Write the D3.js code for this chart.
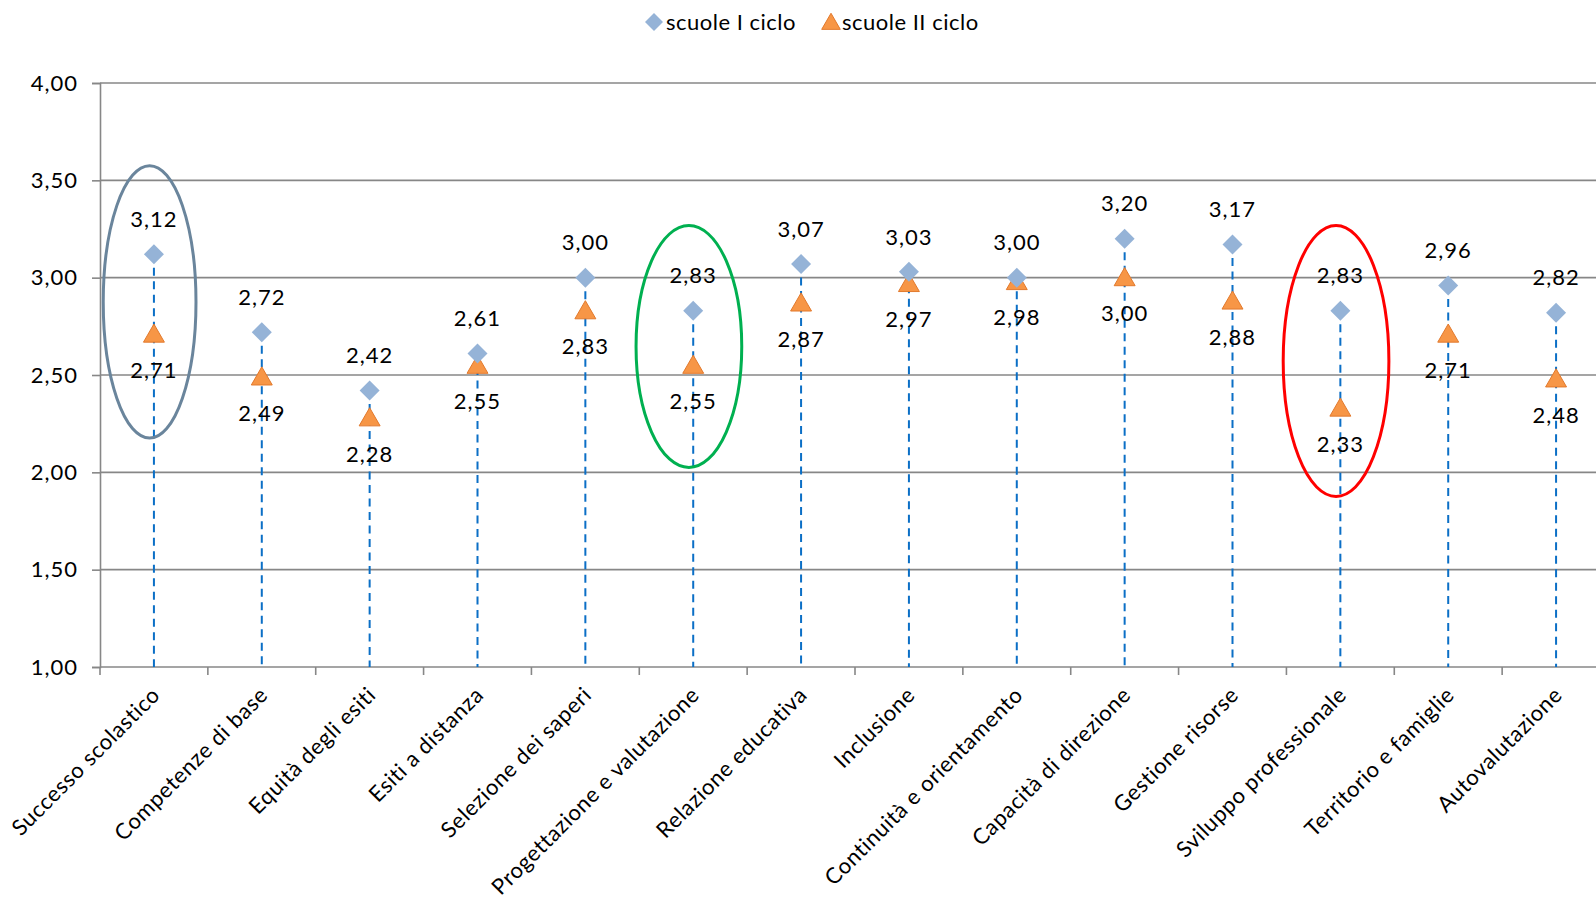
<!DOCTYPE html>
<html>
<head>
<meta charset="utf-8">
<script src="https://cdn.jsdelivr.net/npm/d3@7"></script>
<style>
  html, body { margin: 0; padding: 0; background: #fff; }
  svg { display: block; font-family: Lato, "Noto Sans", sans-serif; }
</style>
</head>
<body>
<svg id="chart" width="1596" height="908"></svg>
<script>
// Aree di valutazione
const categories = [
  "Successo scolastico", "Competenze di base", "Equità degli esiti", "Esiti a distanza",
  "Selezione dei saperi", "Progettazione e valutazione", "Relazione educativa", "Inclusione",
  "Continuità e orientamento", "Capacità di direzione", "Gestione risorse",
  "Sviluppo professionale", "Territorio e famiglie", "Autovalutazione"
];
// Punteggi medi per ciclo
const primoCiclo   = [3.12, 2.72, 2.42, 2.61, 3.00, 2.83, 3.07, 3.03, 3.00, 3.20, 3.17, 2.83, 2.96, 2.82];
const secondoCiclo = [2.71, 2.49, 2.28, 2.55, 2.83, 2.55, 2.87, 2.97, 2.98, 3.00, 2.88, 2.33, 2.71, 2.48];
const seriesNames  = ["scuole I ciclo", "scuole II ciclo"];
const yTicks = [1.00, 1.50, 2.00, 2.50, 3.00, 3.50, 4.00];
// Aree evidenziate: categoria, estremi verticali (valori), colore
const highlightCats   = ["Successo scolastico", "Progettazione e valutazione", "Sviluppo professionale"];
const highlightTop    = [3.575, 3.268, 3.268];
const highlightBottom = [2.176, 2.025, 1.876];
const highlightColors = ["#6a859c", "#00b050", "#ff0000"];

const svg = d3.select("#chart");
const m = { left: 100, top: 83, right: 1610, bottom: 667 };

const x = d3.scaleBand().domain(categories).range([m.left, m.right]);
const y = d3.scaleLinear().domain([1, 4]).range([m.bottom, m.top]);
const fmt = d3.formatLocale({ decimal: ",", thousands: ".", grouping: [3], currency: ["€", ""] }).format(".2f");
const cx = c => x(c) + x.bandwidth() / 2;

const gridColor = "#878787";
const FS = 22;

// griglia orizzontale
svg.append("g").selectAll("line").data(yTicks.filter(t => t > 1)).join("line")
  .attr("x1", m.left).attr("x2", m.right)
  .attr("y1", d => y(d)).attr("y2", d => y(d))
  .attr("stroke", gridColor).attr("stroke-width", 1.6);

// asse Y
const yAxis = svg.append("g").attr("transform", `translate(${m.left},0)`)
  .call(d3.axisLeft(y).tickValues(yTicks).tickFormat(fmt).tickSize(8).tickPadding(14));
yAxis.select(".domain").attr("stroke", gridColor).attr("stroke-width", 1.6);
yAxis.selectAll(".tick line").attr("stroke", gridColor).attr("stroke-width", 1.6);
yAxis.selectAll(".tick text").attr("font-size", FS).attr("fill", "#000")
  .attr("letter-spacing", 1)
  .attr("font-family", "Lato, 'Noto Sans', sans-serif");

// asse X con tacche ai confini delle categorie
const xAxisG = svg.append("g").attr("transform", `translate(0,${m.bottom})`);
xAxisG.append("line").attr("x1", m.left).attr("x2", m.right)
  .attr("stroke", gridColor).attr("stroke-width", 1.6);
const bounds = categories.map(c => x(c)).concat([m.right]);
xAxisG.selectAll("line.tk").data(bounds).join("line").attr("class", "tk")
  .attr("x1", d => d).attr("x2", d => d).attr("y1", 0).attr("y2", 8)
  .attr("stroke", gridColor).attr("stroke-width", 1.6);
xAxisG.selectAll("text").data(categories).join("text")
  .attr("transform", d => `translate(${cx(d) + 2},${24}) rotate(-45)`)
  .attr("text-anchor", "end").attr("dy", "0.35em")
  .attr("font-size", FS).attr("letter-spacing", 0.6).attr("fill", "#000")
  .text(d => d);

// linee di proiezione verso l'asse
svg.append("g").selectAll("line").data(categories).join("line")
  .attr("x1", d => cx(d)).attr("x2", d => cx(d))
  .attr("y1", (d, i) => y(Math.max(primoCiclo[i], secondoCiclo[i])))
  .attr("y2", y(1))
  .attr("stroke", "#0b6fc6").attr("stroke-width", 2).attr("stroke-dasharray", "8,5.5");

const diamond = s => `M0,${-s}L${s},0L0,${s}L${-s},0Z`;
const triangle = d3.symbol().type(d3.symbolTriangle).size(190)();

// serie II ciclo (triangoli)
svg.append("g").selectAll("path").data(categories).join("path")
  .attr("d", triangle)
  .attr("transform", (d, i) => `translate(${cx(d)},${y(secondoCiclo[i]) + 2})`)
  .attr("fill", "#f79646").attr("stroke", "#e2792c").attr("stroke-width", 1);

// serie I ciclo (rombi)
svg.append("g").selectAll("path").data(categories).join("path")
  .attr("d", diamond(10))
  .attr("transform", (d, i) => `translate(${cx(d)},${y(primoCiclo[i])})`)
  .attr("fill", "#95b3d7");

// etichette dei valori
svg.append("g").selectAll("text").data(categories).join("text")
  .attr("x", d => cx(d)).attr("y", (d, i) => y(primoCiclo[i]) - 35)
  .attr("dy", "0.35em").attr("text-anchor", "middle")
  .attr("font-size", FS).attr("letter-spacing", 1).attr("fill", "#000")
  .text((d, i) => fmt(primoCiclo[i]));
svg.append("g").selectAll("text").data(categories).join("text")
  .attr("x", d => cx(d)).attr("y", (d, i) => y(secondoCiclo[i]) + 36)
  .attr("dy", "0.35em").attr("text-anchor", "middle")
  .attr("font-size", FS).attr("letter-spacing", 1).attr("fill", "#000")
  .text((d, i) => fmt(secondoCiclo[i]));

// ellissi di evidenziazione
svg.append("g").selectAll("ellipse").data(highlightCats).join("ellipse")
  .attr("cx", d => cx(d) - 0.04 * x.bandwidth())
  .attr("cy", (d, i) => (y(highlightTop[i]) + y(highlightBottom[i])) / 2)
  .attr("rx", (d, i) => (i === 0 ? 0.43 : 0.49) * x.bandwidth())
  .attr("ry", (d, i) => (y(highlightBottom[i]) - y(highlightTop[i])) / 2)
  .attr("fill", "none")
  .attr("stroke", (d, i) => highlightColors[i])
  .attr("stroke-width", 3);

// legenda
const legend = svg.append("g");
legend.append("path").attr("d", diamond(9)).attr("transform", "translate(654,22)").attr("fill", "#95b3d7");
legend.append("text").attr("x", 666).attr("y", 22).attr("dy", "0.35em")
  .attr("font-size", FS).attr("letter-spacing", 0.5).attr("fill", "#000").text(seriesNames[0]);
legend.append("path").attr("d", d3.symbol().type(d3.symbolTriangle).size(150)())
  .attr("transform", "translate(831,24)")
  .attr("fill", "#f79646").attr("stroke", "#e2792c").attr("stroke-width", 1);
legend.append("text").attr("x", 842).attr("y", 22).attr("dy", "0.35em")
  .attr("font-size", FS).attr("letter-spacing", 0.5).attr("fill", "#000").text(seriesNames[1]);
</script>
</body>
</html>
